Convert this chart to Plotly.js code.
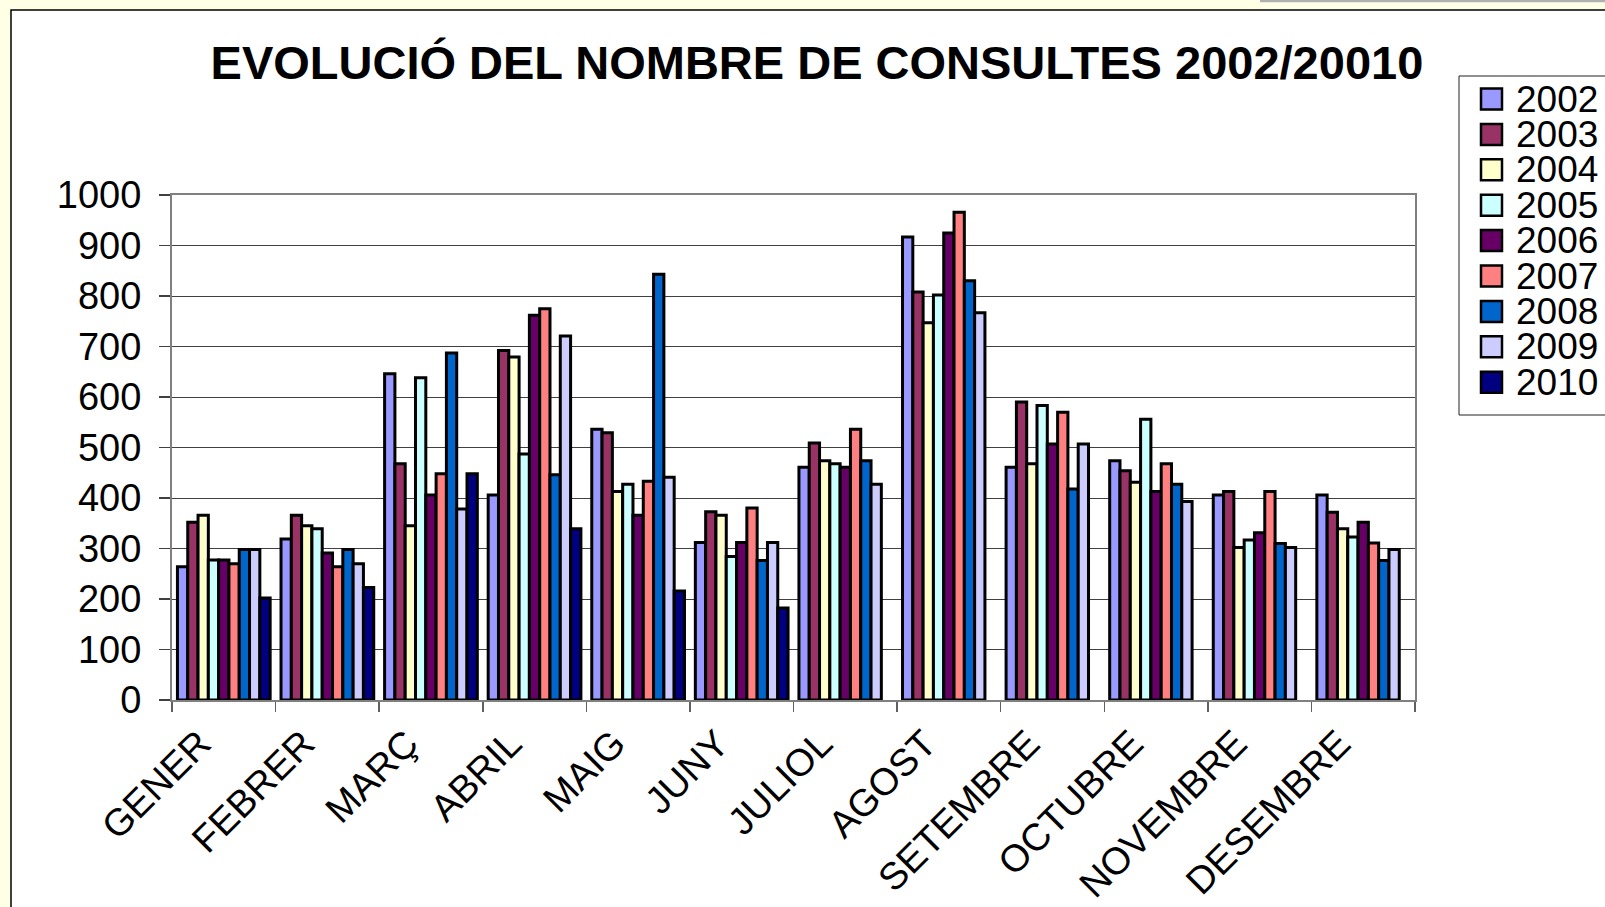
<!DOCTYPE html>
<html>
<head>
<meta charset="utf-8">
<script src="https://cdn.plot.ly/plotly-3.0.1.min.js"></script>
<style>
html,body{margin:0;padding:0;background:#FFFFE5;}
#chart{width:1605px;height:907px;}
</style>
</head>
<body>
<div id="chart"></div>
<script>
// ---- data ----
const months = ["GENER","FEBRER","MARÇ","ABRIL","MAIG","JUNY","JULIOL","AGOST","SETEMBRE","OCTUBRE","NOVEMBRE","DESEMBRE"];
const years = ["2002","2003","2004","2005","2006","2007","2008","2009","2010"];
const v2002 = [264,319,646,406,536,312,461,917,461,474,406,406];
const v2003 = [352,366,468,692,529,373,509,808,590,454,413,372];
const v2004 = [366,345,345,679,413,366,474,747,468,431,302,339];
const v2005 = [277,339,638,487,427,284,468,802,583,556,317,323];
const v2006 = [277,291,406,762,366,312,461,925,507,413,331,352];
const v2007 = [270,264,448,775,433,380,536,966,570,468,413,311];
const v2008 = [298,298,687,446,843,276,474,830,418,427,310,276];
const v2009 = [298,270,378,721,441,312,427,767,507,393,302,298];
const v2010 = [202,223,448,339,216,182,null,null,null,null,null,null];
const seriesValues = [v2002,v2003,v2004,v2005,v2006,v2007,v2008,v2009,v2010];
const colors = ["#9999FF","#993366","#FFFFCC","#CCFFFF","#660066","#FF8080","#0066CC","#CCCCFF","#000080"];

// ---- layout helpers (pixel -> paper) ----
const W = 1605, H = 907;
const L = 172, R = 190, T = 195, B = 207;
const PW = W - L - R, PH = H - T - B;
const px = x => (x - L) / PW;
const py = y => (H - B - y) / PH;

const traces = years.map((yr, i) => ({
  type: "bar",
  name: yr,
  x: months,
  y: seriesValues[i],
  marker: {color: colors[i], line: {color: "#000000", width: 3}},
  hoverinfo: "x+y+name"
}));

const shapes = [];
const annotations = [];
// white chart panel
shapes.push({type:"rect", xref:"paper", yref:"paper", layer:"below",
  x0: px(11), x1: px(1620), y0: py(10), y1: py(920),
  fillcolor:"#FFFFFF", line:{color:"#000000", width:1.5}});
// thin grey strip at top right
shapes.push({type:"line", xref:"paper", yref:"paper",
  x0: px(1260), x1: px(1610), y0: py(1), y1: py(1),
  line:{color:"#B0B0B0", width:2.5}});
// legend box
shapes.push({type:"rect", xref:"paper", yref:"paper",
  x0: px(1459), x1: px(1640), y0: py(76), y1: py(415),
  fillcolor:"rgba(0,0,0,0)", line:{color:"#222222", width:1}});
years.forEach((yr, i) => {
  const cy = 99 + i * 35.4;
  shapes.push({type:"rect", xref:"paper", yref:"paper",
    x0: px(1481), x1: px(1502), y0: py(cy - 10.5), y1: py(cy + 10.5),
    fillcolor: colors[i], line:{color:"#000000", width:2.5}});
  annotations.push({xref:"paper", yref:"paper", x: px(1514), y: py(cy),
    xanchor:"left", yanchor:"middle", text: yr, showarrow:false,
    font:{family:"Liberation Sans, Arial, sans-serif", size:37, color:"#000000"}});
});

const layout = {
  width: W, height: H,
  margin: {l: L, r: R, t: T, b: B, pad: 0},
  paper_bgcolor: "#FFFFE5",
  plot_bgcolor: "#FFFFFF",
  barmode: "group",
  bargap: 0.105,
  bargroupgap: 0,
  showlegend: false,
  title: {
    text: "EVOLUCIÓ DEL NOMBRE DE CONSULTES 2002/20010",
    font: {family: "Liberation Sans, Arial, sans-serif", size: 47, weight: 700, color: "#000000"},
    x: 0.509, xanchor: "center", xref: "container",
    y: 1 - 63 / H, yanchor: "middle", yref: "container"
  },
  xaxis: {
    type: "category",
    tickangle: -45,
    tickson: "boundaries",
    ticks: "outside", ticklen: 10, tickcolor: "#606060", tickwidth: 1.5,
    ticklabelshift: -24,
    ticklabelstandoff: 4,
    tickfont: {family: "Liberation Sans, Arial, sans-serif", size: 38, color: "#000000"},
    showline: true, linecolor: "#808080", linewidth: 2, mirror: true,
    showgrid: false, zeroline: false, fixedrange: true
  },
  yaxis: {
    range: [0, 1000], dtick: 100, tick0: 0,
    ticks: "outside", ticklen: 11, tickcolor: "#404040", tickwidth: 1.5,
    ticklabelstandoff: 10,
    tickfont: {family: "Liberation Sans, Arial, sans-serif", size: 38, color: "#000000"},
    showline: true, linecolor: "#808080", linewidth: 2, mirror: true,
    showgrid: true, gridcolor: "#404040", gridwidth: 1,
    zeroline: false, fixedrange: true
  },
  shapes: shapes,
  annotations: annotations
};

Plotly.newPlot("chart", traces, layout, {displayModeBar: false, staticPlot: true});
</script>
</body>
</html>
